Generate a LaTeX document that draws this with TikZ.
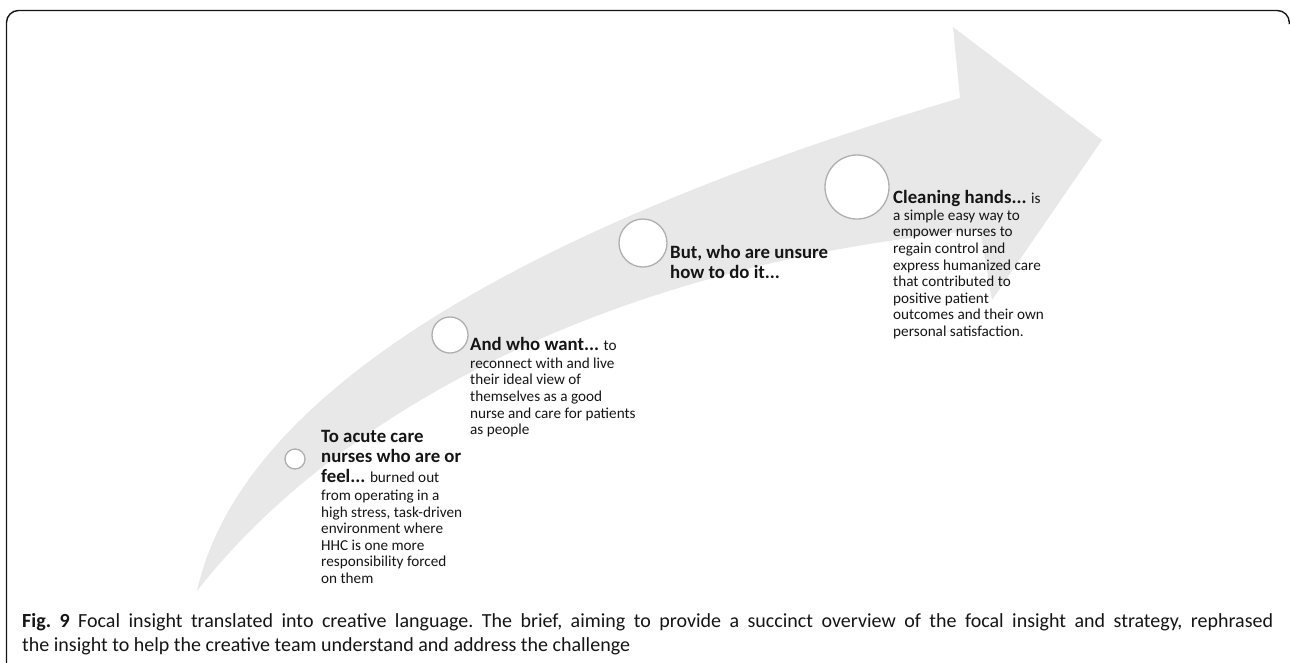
\documentclass[tikz,border=0pt]{standalone}
\usepackage{fontspec}
\setmainfont{Carlito}
\definecolor{arrowgray}{HTML}{E8E8E8}
\definecolor{ringgray}{HTML}{AFAFAF}
\definecolor{inkc}{HTML}{151515}
\newcommand{\tightlines}{\setlength{\lineskiplimit}{-100pt}}
\tikzset{
  ring/.style={circle, draw=ringgray, fill=white, line width=1.3pt, inner sep=0pt},
  blurb/.style={anchor=north west, inner sep=0pt, align=left, text=inkc,
    font=\fontsize{15.2}{16.6}\selectfont, execute at begin node=\tightlines},
  capline/.style={anchor=base west, inner sep=0pt, text=inkc,
    font=\fontsize{20}{24}\selectfont, execute at begin node=\frenchspacing},
}
\newcommand{\hd}[1]{{\fontsize{18.8}{20}\selectfont\bfseries #1}}
\begin{document}
\begin{tikzpicture}[x=1pt,y=-1pt]
\useasboundingbox (0,0) rectangle (1290,662);
% frame
\draw[line width=1.4pt, rounded corners=12pt, draw=inkc]
  (6.5,670) -- (6.5,10.5) -- (1289.3,10.5) -- (1289.3,24);
% big arrow
\fill[arrowgray] (197,591) .. controls (250,350) and (650,190) .. (960,98)
  -- (953,27) -- (1102,140) -- (992,300) -- (980,230)
  .. controls (600,265) and (330,420) .. (197,591) -- cycle;
% circles
\node[ring, minimum size=20pt] (c1) at (295,459) {};
\node[ring, minimum size=36pt] (c2) at (450,335) {};
\node[ring, minimum size=48pt] (c3) at (643,243) {};
\node[ring, minimum size=64pt] (c4) at (857,187) {};
% texts
\node[blurb] (t1) at (321,430) {\hd{To acute care}\\[3.4pt]
  \hd{nurses who are or}\\[3.4pt]
  \hd{feel...} burned out\\[1.4pt]
  from operating in a\\
  high stress, task-driven\\
  environment where\\
  HHC is one more\\
  responsibility forced\\
  on them};
\node[blurb] (t2) at (470,337) {\hd{And who want...} to\\[1.4pt]
  reconnect with and live\\
  their ideal view of\\
  themselves as a good\\
  nurse and care for patients\\
  as people};
\node[blurb] (t3) at (670,245) {\hd{But, who are unsure}\\[3.4pt]
  \hd{how to do it...}};
\node[blurb] (t4) at (893,190) {\hd{Cleaning hands...} is\\[0.4pt]
  a simple easy way to\\
  empower nurses to\\
  regain control and\\
  express humanized care\\
  that contributed to\\
  positive patient\\
  outcomes and their own\\
  personal satisfaction.};
% caption
\node[capline] (cap1) at (22,627) {\hbox to 1251pt{\textbf{Fig. 9} Focal insight translated into creative language. The brief, aiming to provide a succinct overview of the focal insight and strategy, rephrased}};
\node[capline] (cap2) at (22,651) {the insight to help the creative team understand and address the challenge};
\end{tikzpicture}
\end{document}
